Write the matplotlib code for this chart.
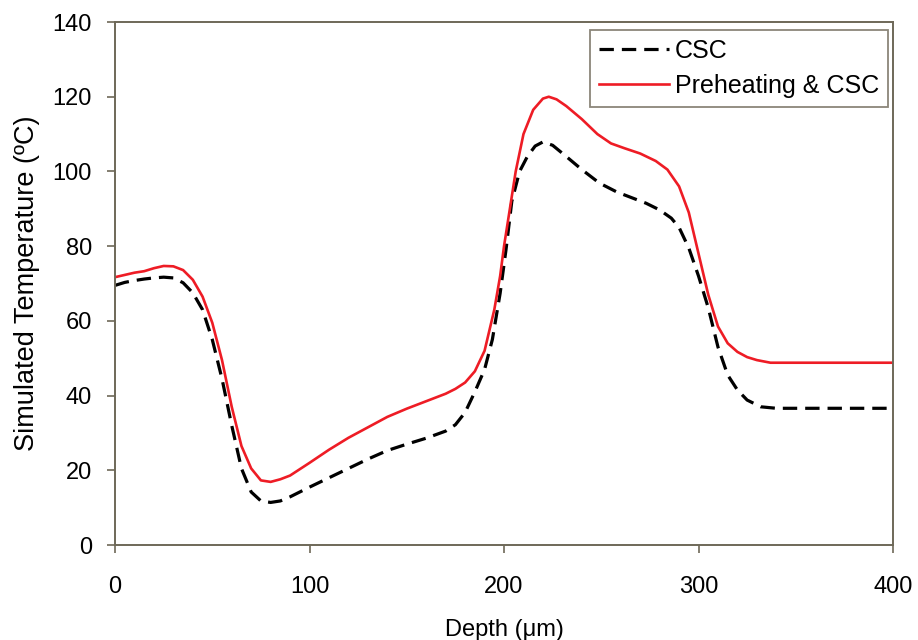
import matplotlib
matplotlib.use('Agg')
import matplotlib.pyplot as plt

plt.rcParams['font.family'] = ['Liberation Sans', 'DejaVu Sans']

# CSC (dashed black)
depth_csc = [0, 5, 10, 15, 20, 25, 30, 35, 40, 45, 50, 55, 60, 65, 70, 75, 80, 85, 90, 100,
             110, 120, 130, 140, 150, 160, 170, 175, 180, 185, 190, 194, 198, 201, 204, 208,
             212, 216, 220, 225, 232, 240, 249, 258, 266, 273, 280, 286, 290, 295, 300, 305,
             310, 315, 320, 325, 332, 340, 400]
temp_csc = [69.5, 70.3, 70.8, 71.2, 71.5, 71.7, 71.5, 70.2, 67.5, 63, 55, 44.5, 32, 20.5, 14.2,
            11.8, 11.4, 11.8, 12.9, 15.5, 18, 20.5, 23, 25.3, 27, 28.6, 30.5, 32.2, 35.5, 41,
            47, 55, 67.4, 79, 92, 100, 104, 106.8, 107.9, 107, 104, 100.5, 96.9, 94.5, 92.9,
            91.5, 89.7, 87.5, 85, 79.5, 72, 63.5, 53, 45.5, 41.5, 38.8, 37, 36.6, 36.6]

# Preheating & CSC (solid red)
depth_pre = [0, 5, 10, 15, 20, 25, 30, 35, 40, 45, 50, 55, 60, 65, 70, 75, 80, 85, 90, 100,
             110, 120, 130, 140, 150, 160, 170, 175, 180, 185, 190, 195, 198, 200, 203, 206,
             210, 215, 220, 223, 227, 232, 240, 248, 255, 262, 270, 278, 284, 290, 295, 300,
             305, 310, 315, 320, 325, 330, 337, 400]
temp_pre = [71.7, 72.3, 72.9, 73.3, 74.1, 74.7, 74.6, 73.6, 71, 66.5, 59.5, 49.5, 37, 26.5, 20.5,
            17.3, 16.9, 17.6, 18.6, 22, 25.5, 28.7, 31.5, 34.3, 36.5, 38.5, 40.5, 41.8, 43.5,
            46.5, 52, 63, 72, 80, 90, 100, 110, 116.5, 119.5, 120, 119.3, 117.5, 114, 110,
            107.5, 106.2, 104.8, 102.8, 100.5, 96, 89, 78, 67, 58.5, 54, 51.7, 50.3, 49.5,
            48.8, 48.8]

spine_col = '#6e6858'

fig = plt.figure(figsize=(9.18, 6.4), dpi=100)
ax = fig.add_axes([0.1253, 0.1484, 0.8475, 0.8172])

ax.plot(depth_csc, temp_csc, color='black', linestyle=(0, (4.5, 2.5)), linewidth=2.3, label='CSC')
ax.plot(depth_pre, temp_pre, color='#ee1c25', linewidth=1.9, label='Preheating & CSC')

ax.set_xlim(0, 400)
ax.set_ylim(0, 140)
ax.set_xticks([0, 100, 200, 300, 400])
ax.set_yticks(range(0, 141, 20))
ax.tick_params(axis='both', direction='out', length=5.5, width=1.2, color=spine_col,
               labelsize=17)
ax.tick_params(axis='y', pad=11)
ax.tick_params(axis='x', pad=17)
for s in ax.spines.values():
    s.set_color(spine_col)
    s.set_linewidth(1.4)

ax.set_xlabel('Depth (μm)', fontsize=17, labelpad=15)
ax.set_ylabel('Simulated Temperature (ºC)', fontsize=19.5, labelpad=9)

leg = ax.legend(loc='upper right', bbox_to_anchor=(0.9936, 0.9847), borderaxespad=0,
                fontsize=18, frameon=True, fancybox=False, edgecolor=spine_col,
                handlelength=2.8, borderpad=0.35, labelspacing=0.45, handletextpad=0.25)
leg.get_frame().set_linewidth(1.3)

fig.savefig('out.png', dpi=100)
